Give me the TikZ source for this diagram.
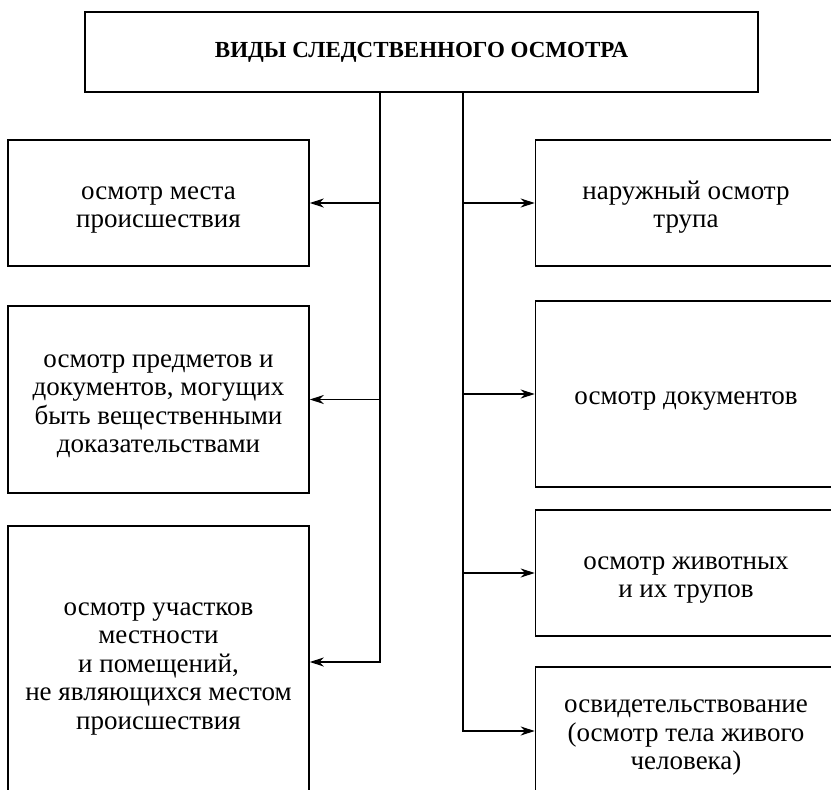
\documentclass[tikz,border=0pt]{standalone}
\usepackage{fontspec}
\setmainfont{Liberation Serif}
\usetikzlibrary{arrows.meta}

\newcommand{\tstrut}{\rule{0pt}{28.5pt}}
\newcommand{\bstrut}{\rule[-8pt]{0pt}{8pt}}

\begin{document}
\begin{tikzpicture}[
  x=1pt, y=-1pt,
  font=\fontsize{27}{28.5}\selectfont,
  >={Stealth[length=14pt, width=9pt]},
  box/.style={draw, line width=1.6pt, minimum width=301pt, align=center,
              inner sep=0pt},
  head/.style={draw, line width=2.6pt, minimum width=673pt, minimum height=80pt,
               font=\fontsize{23}{26}\selectfont\bfseries, inner sep=0pt},
  link/.style={line width=1.1pt}
]
\useasboundingbox (0,0) rectangle (831,790);
\clip (0,0) rectangle (831,790);

% ---------- заголовок ----------
\node[head] (top) at (421.5,52) {ВИДЫ СЛЕДСТВЕННОГО ОСМОТРА};

% ---------- левая колонка ----------
\node[box, minimum height=126pt] (l1) at (158.5,203)   {\tstrut осмотр места\\ происшествия\bstrut};
\node[box, minimum height=187pt] (l2) at (158.5,399.5) {\tstrut осмотр предметов и\\ документов, могущих\\ быть вещественными\\ доказательствами\bstrut};
\node[box, minimum height=272pt] (l3) at (158.5,662)   {\tstrut осмотр участков\\ местности\\ и помещений,\\ не являющихся местом\\ происшествия\bstrut};

% ---------- правая колонка ----------
\node[box, minimum height=126pt] (r1) at (686,203) {\tstrut наружный осмотр\\ трупа\bstrut};
\node[box, minimum height=186pt] (r2) at (686,394) {\tstrut осмотр документов\bstrut};
\node[box, minimum height=126pt] (r3) at (686,573) {\tstrut осмотр животных\\ и их трупов\bstrut};
\node[box, minimum height=128pt] (r4) at (686,731) {\tstrut освидетельствование\\ (осмотр тела живого\\ человека)\bstrut};

% ---------- стволы ----------
\coordinate (xl) at (380,0);
\coordinate (xr) at (463,0);

\draw[link,->] (top.south -| xl) |- (l3.east);
\draw[link,->] (l1.east -| xl) -- (l1.east);
\draw[link,->] (l2.east -| xl) -- (l2.east);

\draw[link,->] (top.south -| xr) |- (r4.west);
\draw[link,->] (r1.west -| xr) -- (r1.west);
\draw[link,->] (r2.west -| xr) -- (r2.west);
\draw[link,->] (r3.west -| xr) -- (r3.west);

\end{tikzpicture}
\end{document}
